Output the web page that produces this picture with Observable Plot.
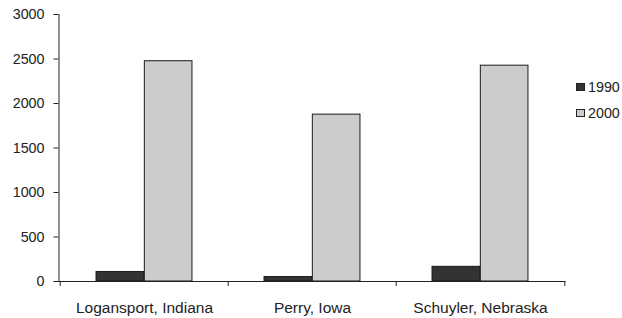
<!DOCTYPE html>
<html>
<head>
<meta charset="utf-8">
<script src="https://cdn.jsdelivr.net/npm/d3@7"></script>
<script src="https://cdn.jsdelivr.net/npm/@observablehq/plot@0.6"></script>
<style>
  html, body { margin: 0; padding: 0; background: #fff; }
  #wrap { position: relative; width: 622px; height: 318px; font-family: "Liberation Sans", Arial, sans-serif; }
  #legend { position: absolute; left: 576px; top: 74px; font-size: 14.3px; color: #222; line-height: 26px; }
  .item { display: flex; align-items: center; height: 26px; }
  .sw { width: 7px; height: 6px; border: 1px solid #222; margin-right: 3px; }
</style>
</head>
<body>
<div id="wrap"></div>
<script>
const towns = ["Logansport, Indiana", "Perry, Iowa", "Schuyler, Nebraska"];
const years = ["1990", "2000"];
const values1990 = [107, 50, 165];
const values2000 = [2475, 1875, 2425];
const yTicks = [0, 500, 1000, 1500, 2000, 2500, 3000];
const colors = ["#333333", "#cccccc"];

const data = towns.flatMap((t, i) => [
  {town: t, year: years[0], value: values1990[i]},
  {town: t, year: years[1], value: values2000[i]}
]);

const W = 622, H = 318, mL = 58.5, mR = 57.5, mT = 14, mB = 37;
const bw = (W - mL - mR) / towns.length;
const barW = 48.3;
const outer = bw / 2 - barW;

const plot = Plot.plot({
  width: W,
  height: H,
  marginLeft: mL,
  marginRight: mR,
  marginTop: mT,
  marginBottom: mB,
  style: {fontFamily: '"Liberation Sans", Arial, sans-serif', fontSize: "14.3px", color: "#222", background: "#fff"},
  x: {domain: towns, padding: 0},
  y: {domain: [0, 3000]},
  color: {domain: years, range: colors},
  marks: [
    Plot.barY(data.filter(d => d.year === years[0]), {x: "town", y: "value", fill: "year", stroke: "#1a1a1a", strokeWidth: 1, insetLeft: outer, insetRight: bw / 2}),
    Plot.barY(data.filter(d => d.year === years[1]), {x: "town", y: "value", fill: "year", stroke: "#1a1a1a", strokeWidth: 1, insetLeft: bw / 2, insetRight: outer}),
    Plot.frame({anchor: "left", stroke: "#222"}),
    Plot.frame({anchor: "bottom", stroke: "#222"}),
    Plot.axisY({ticks: yTicks, tickSize: 5, tickPadding: 9.5, tickFormat: d => String(d), label: null, stroke: "#222"}),
    Plot.axisX({tickSize: 0, tickPadding: 20, label: null, fontSize: "15.5px"}),
    Plot.ruleX(towns, {x: d => d, dx: -bw / 2, insetTop: H - mT - mB, insetBottom: -5, stroke: "#222"}),
    Plot.ruleX(towns.slice(-1), {x: d => d, dx: bw / 2, insetTop: H - mT - mB, insetBottom: -5, stroke: "#222"})
  ]
});

const wrap = document.getElementById("wrap");
wrap.appendChild(plot);

const legend = document.createElement("div");
legend.id = "legend";
years.forEach((y, i) => {
  const item = document.createElement("div");
  item.className = "item";
  const sw = document.createElement("div");
  sw.className = "sw";
  sw.style.background = colors[i];
  const lab = document.createElement("span");
  lab.textContent = y;
  item.appendChild(sw);
  item.appendChild(lab);
  legend.appendChild(item);
});
wrap.appendChild(legend);
</script>
</body>
</html>
